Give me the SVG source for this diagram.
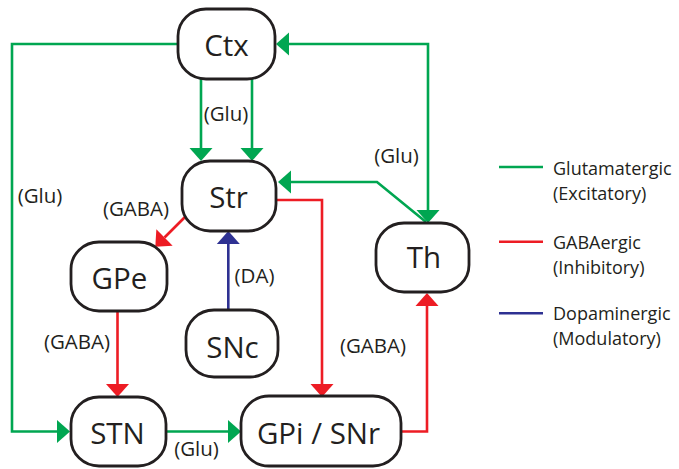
<svg xmlns="http://www.w3.org/2000/svg" width="679" height="469" viewBox="0 0 679 469">
<style>
  .node rect { fill: #ffffff; stroke: #231f20; stroke-width: 2.8; }
  .node text { font-family: "Open Sans", "Liberation Sans", sans-serif; font-size: 29.5px; fill: #231f20; text-anchor: middle; }
  .lbl { font-family: "Open Sans", "Liberation Sans", sans-serif; font-size: 20.5px; fill: #231f20; text-anchor: middle; }
  .leg { font-family: "Open Sans", "Liberation Sans", sans-serif; font-size: 18px; fill: #231f20; }
  .g { stroke: #00a651; }
  .r { stroke: #ed1c24; }
  .b { stroke: #2e3192; }
  .conn path, .legend line { fill: none; stroke-width: 2.6; }
  .g-end { marker-end: url(#ag); }
  .r-end { marker-end: url(#ar); }
  .b-end { marker-end: url(#ab); }
</style>
<defs>
  <marker id="ag" markerUnits="userSpaceOnUse" viewBox="0 0 13 24" refX="0" refY="12" markerWidth="13" markerHeight="24" orient="auto-start-reverse">
    <path d="M0,0.5 L13,12 L0,23.5 Z" fill="#00a651"/>
  </marker>
  <marker id="ar" markerUnits="userSpaceOnUse" viewBox="0 0 13 24" refX="0" refY="12" markerWidth="13" markerHeight="24" orient="auto">
    <path d="M0,0.5 L13,12 L0,23.5 Z" fill="#ed1c24"/>
  </marker>
  <marker id="ab" markerUnits="userSpaceOnUse" viewBox="0 0 13 24" refX="0" refY="12" markerWidth="13" markerHeight="24" orient="auto">
    <path d="M0,0.5 L13,12 L0,23.5 Z" fill="#2e3192"/>
  </marker>
</defs>
<rect width="679" height="469" fill="#ffffff"/>

<g id="connectors" class="conn">
  <path class="g g-end" d="M178,44 H12 V431.5 H57"/>
  <path class="g g-end" d="M201,79 V148"/>
  <path class="g g-end" d="M252,79 V148"/>
  <path class="g g-end" d="M289,44 H428 V210" style="marker-start:url(#ag)"/>
  <path class="g g-end" d="M426,222 L377,182 H291"/>
  <path class="r r-end" d="M185,217 L164.5,237.5"/>
  <path class="r r-end" d="M276,200 H322 V384"/>
  <path class="r r-end" d="M117.5,311 V384"/>
  <path class="b b-end" d="M228.3,310 V244"/>
  <path class="g g-end" d="M166,431.5 H228"/>
  <path class="r r-end" d="M401,431.5 H427 V306"/>
  <text class="lbl" x="226" y="121">(Glu)</text>
  <text class="lbl" x="40" y="203">(Glu)</text>
  <text class="lbl" x="136" y="216">(GABA)</text>
  <text class="lbl" x="396.5" y="163">(Glu)</text>
  <text class="lbl" x="254.5" y="283">(DA)</text>
  <text class="lbl" x="77" y="349">(GABA)</text>
  <text class="lbl" x="373" y="352.5">(GABA)</text>
  <text class="lbl" x="196.5" y="456">(Glu)</text>
</g>

<g id="Ctx" class="node"><rect x="178" y="9" width="97" height="70" rx="28" ry="27"/><text x="226.5" y="55.5">Ctx</text></g>
<g id="Str" class="node"><rect x="182" y="161" width="94" height="70" rx="28" ry="27"/><text x="228.5" y="207.5">Str</text></g>
<g id="GPe" class="node"><rect x="71" y="242" width="96" height="69" rx="28" ry="27"/><text x="119.5" y="288.5">GPe</text></g>
<g id="SNc" class="node"><rect x="186" y="310" width="92" height="67" rx="28" ry="27"/><text x="232.5" y="357.5">SNc</text></g>
<g id="Th" class="node"><rect x="376" y="223" width="93" height="69" rx="28" ry="27"/><text x="424" y="267.5">Th</text></g>
<g id="STN" class="node"><rect x="71" y="397" width="95" height="69" rx="28" ry="27"/><text x="117.5" y="443.5">STN</text></g>
<g id="GPi_SNr" class="node"><rect x="241" y="396" width="160" height="70" rx="28" ry="27"/><text x="318.5" y="443.5">GPi / SNr</text></g>

<g id="legend" class="legend">
  <line class="g" x1="499" y1="167" x2="543" y2="167"/>
  <text class="leg" x="553" y="175">Glutamatergic</text>
  <text class="leg" x="553" y="200">(Excitatory)</text>
  <line class="r" x1="499" y1="241.7" x2="543" y2="241.7"/>
  <text class="leg" x="553" y="249">GABAergic</text>
  <text class="leg" x="553" y="274">(Inhibitory)</text>
  <line class="b" x1="499" y1="313.3" x2="543" y2="313.3"/>
  <text class="leg" x="553" y="320">Dopaminergic</text>
  <text class="leg" x="553" y="345">(Modulatory)</text>
</g>
</svg>
